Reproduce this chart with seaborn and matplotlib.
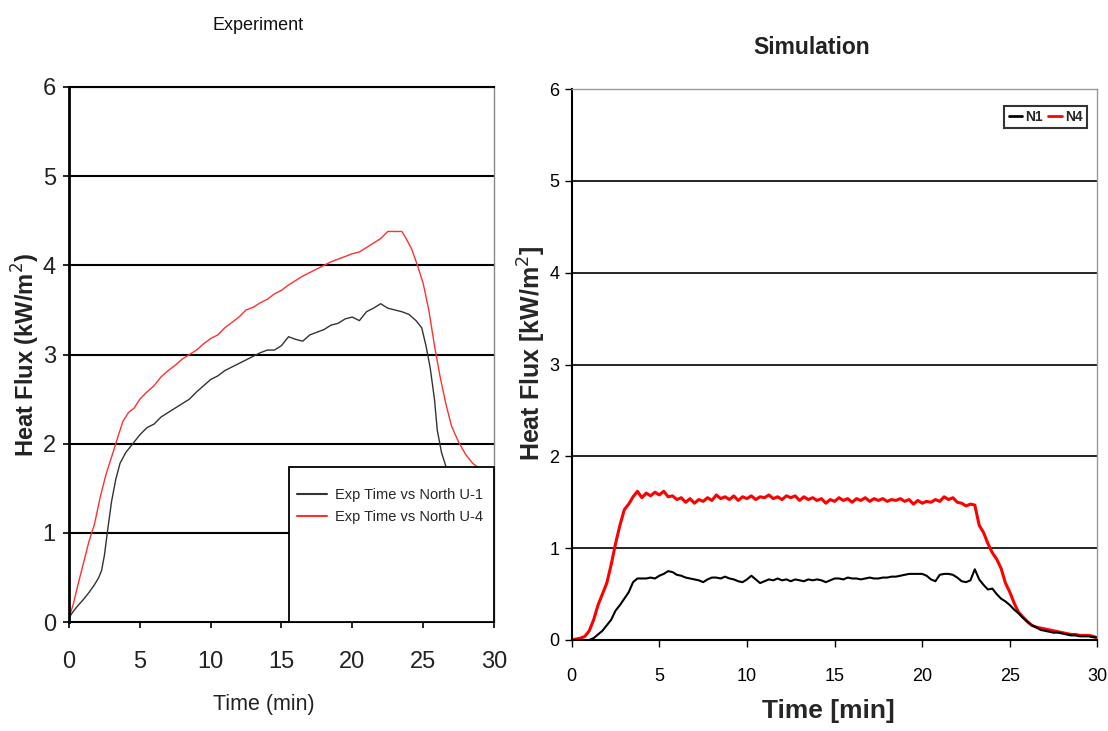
import numpy as np
import pandas as pd
import matplotlib
matplotlib.use("Agg")
import matplotlib.pyplot as plt
from matplotlib.patches import Rectangle
from matplotlib.lines import Line2D
from matplotlib import font_manager
import seaborn as sns

# ---------------- data ----------------
EXP_U1_TIME = [0, 0.3, 0.6, 1.0, 1.4, 1.8, 2.1, 2.3, 2.5, 2.7, 3.0, 3.3, 3.6, 4.0, 4.5, 5.0, 5.5, 6.0,
               6.5, 7.0, 7.5, 8.0, 8.5, 9.0, 9.5, 10.0, 10.5, 11.0, 11.5, 12.0, 12.5, 13.0, 13.5, 14.0,
               14.5, 15.0, 15.5, 16.0, 16.5, 17.0, 17.5, 18.0, 18.5, 19.0, 19.5, 20.0, 20.5, 21.0, 21.5,
               22.0, 22.5, 23.0, 23.5, 24.0, 24.5, 24.9, 25.2, 25.5, 25.8, 26.0, 26.3, 26.6]
EXP_U1 = [0.05, 0.12, 0.18, 0.25, 0.33, 0.42, 0.5, 0.58, 0.75, 1.0, 1.35, 1.6, 1.78, 1.9, 2.0, 2.1, 2.18,
          2.22, 2.3, 2.35, 2.4, 2.45, 2.5, 2.58, 2.65, 2.72, 2.76, 2.82, 2.86, 2.9, 2.94, 2.98, 3.02, 3.05,
          3.05, 3.1, 3.2, 3.17, 3.15, 3.22, 3.25, 3.28, 3.33, 3.35, 3.4, 3.42, 3.38, 3.48, 3.52, 3.57, 3.52,
          3.5, 3.48, 3.45, 3.38, 3.3, 3.1, 2.85, 2.5, 2.15, 1.9, 1.75]

EXP_U4_TIME = [0, 0.3, 0.6, 1.0, 1.4, 1.8, 2.2, 2.6, 3.0, 3.4, 3.8, 4.2, 4.6, 5.0, 5.5, 6.0, 6.5, 7.0, 7.5,
               8.0, 8.5, 9.0, 9.5, 10.0, 10.5, 11.0, 11.5, 12.0, 12.5, 13.0, 13.5, 14.0, 14.5, 15.0, 15.5,
               16.0, 16.5, 17.0, 17.5, 18.0, 18.5, 19.0, 19.5, 20.0, 20.5, 21.0, 21.5, 22.0, 22.5, 23.0,
               23.5, 23.8, 24.2, 24.6, 25.0, 25.4, 25.8, 26.2, 26.6, 27.0, 27.5, 28.0, 28.5, 29.0]
EXP_U4 = [0.05, 0.2, 0.4, 0.65, 0.9, 1.1, 1.4, 1.65, 1.85, 2.05, 2.25, 2.35, 2.4, 2.5, 2.58, 2.65, 2.75,
          2.82, 2.88, 2.95, 3.0, 3.05, 3.12, 3.18, 3.22, 3.3, 3.36, 3.42, 3.5, 3.53, 3.58, 3.62, 3.68, 3.72,
          3.78, 3.83, 3.88, 3.92, 3.96, 4.0, 4.04, 4.07, 4.1, 4.13, 4.15, 4.2, 4.25, 4.3, 4.38, 4.38, 4.38,
          4.3, 4.18, 4.0, 3.8, 3.5, 3.1, 2.75, 2.45, 2.2, 2.02, 1.88, 1.78, 1.72]

SIM_TIME = [i * 0.25 for i in range(121)]
SIM_N4 = [0.0, 0.01, 0.02, 0.04, 0.10, 0.22, 0.38, 0.50, 0.62, 0.82, 1.05, 1.25, 1.42, 1.48, 1.56, 1.62,
          1.55, 1.60, 1.57, 1.61, 1.58, 1.62, 1.56, 1.57, 1.53, 1.55, 1.50, 1.54, 1.49, 1.53, 1.51, 1.55,
          1.52, 1.58, 1.54, 1.56, 1.53, 1.57, 1.52, 1.56, 1.54, 1.57, 1.53, 1.56, 1.55, 1.58, 1.54, 1.56,
          1.53, 1.57, 1.55, 1.57, 1.52, 1.56, 1.53, 1.55, 1.52, 1.54, 1.49, 1.53, 1.51, 1.55, 1.52, 1.54,
          1.50, 1.54, 1.52, 1.55, 1.51, 1.54, 1.52, 1.54, 1.51, 1.53, 1.52, 1.54, 1.51, 1.53, 1.48, 1.52,
          1.49, 1.51, 1.50, 1.53, 1.51, 1.56, 1.53, 1.55, 1.50, 1.49, 1.46, 1.48, 1.47, 1.25, 1.17, 1.05,
          0.95, 0.88, 0.78, 0.62, 0.52, 0.40, 0.30, 0.25, 0.20, 0.16, 0.14, 0.13, 0.12, 0.11, 0.10, 0.09,
          0.08, 0.07, 0.06, 0.06, 0.05, 0.05, 0.05, 0.04, 0.02]
SIM_N1 = [0.0, 0.0, 0.0, 0.0, 0.0, 0.02, 0.06, 0.10, 0.16, 0.22, 0.32, 0.38, 0.45, 0.52, 0.63, 0.67,
          0.67, 0.67, 0.68, 0.67, 0.70, 0.72, 0.75, 0.74, 0.71, 0.70, 0.68, 0.67, 0.66, 0.65, 0.63, 0.66,
          0.68, 0.68, 0.67, 0.69, 0.67, 0.66, 0.64, 0.63, 0.66, 0.70, 0.66, 0.62, 0.64, 0.66, 0.65, 0.67,
          0.65, 0.66, 0.64, 0.66, 0.65, 0.64, 0.66, 0.65, 0.66, 0.65, 0.63, 0.65, 0.67, 0.67, 0.66, 0.68,
          0.67, 0.67, 0.66, 0.67, 0.68, 0.67, 0.67, 0.68, 0.68, 0.69, 0.69, 0.70, 0.71, 0.72, 0.72, 0.72,
          0.72, 0.70, 0.66, 0.64, 0.71, 0.72, 0.72, 0.71, 0.68, 0.64, 0.63, 0.65, 0.77, 0.66, 0.60, 0.55,
          0.56, 0.50, 0.45, 0.42, 0.38, 0.33, 0.29, 0.24, 0.20, 0.16, 0.14, 0.11, 0.10, 0.09, 0.08, 0.08,
          0.07, 0.06, 0.05, 0.05, 0.04, 0.04, 0.04, 0.03, 0.03]

Y_TICKS = [0, 1, 2, 3, 4, 5, 6]
X_TICKS = [0, 5, 10, 15, 20, 25, 30]
EXP_LABELS = ["Exp Time vs North U-1", "Exp Time vs North U-4"]
SIM_LABELS = ["N1", "N4"]

# ---------------- style ----------------
sns.set_style("white")
plt.rcParams["font.family"] = ["Liberation Sans", "DejaVu Sans"]

_avail = {f.name for f in font_manager.fontManager.ttflist}
NARROW = "Liberation Sans"
for cand in ["Liberation Sans Narrow", "DejaVu Sans Condensed"]:
    if cand in _avail:
        NARROW = cand
        break
narrow_kw = dict(family=[NARROW, "DejaVu Sans"])
if NARROW == "DejaVu Sans Condensed":
    narrow_kw["stretch"] = "condensed"


def narrowize(labels, size):
    for lab in labels:
        lab.set_fontsize(size)
        lab.set_family(narrow_kw["family"])
        if "stretch" in narrow_kw:
            lab.set_stretch(narrow_kw["stretch"])


fig = plt.figure(figsize=(11.08, 7.31), dpi=100)
ax1 = fig.add_axes([0.0623, 0.149, 0.3835, 0.732])
ax2 = fig.add_axes([0.516, 0.1245, 0.4745, 0.7535])

# ---------------- Experiment ----------------
df_u1 = pd.DataFrame({"t": EXP_U1_TIME, "q": EXP_U1})
df_u4 = pd.DataFrame({"t": EXP_U4_TIME, "q": EXP_U4})
sns.lineplot(data=df_u1, x="t", y="q", ax=ax1, color="#333333", lw=1.0, estimator=None, sort=False)
sns.lineplot(data=df_u4, x="t", y="q", ax=ax1, color="#ff3030", lw=1.0, estimator=None, sort=False)

ax1.set_xlim(0, 30)
ax1.set_ylim(0, 6)
ax1.set_xticks(X_TICKS)
ax1.set_yticks(Y_TICKS)
for y in Y_TICKS[1:]:
    ax1.axhline(y, color="black", lw=1.5, zorder=1)
ax1.tick_params(axis="both", direction="out", length=4.5, width=1.2, colors="black",
                left=True, bottom=True)
ax1.tick_params(axis="x", pad=16)
ax1.tick_params(axis="y", pad=5)
narrowize(ax1.get_xticklabels() + ax1.get_yticklabels(), 17)
for lab in ax1.get_xticklabels() + ax1.get_yticklabels():
    lab.set_color("#222222")
ax1.spines["left"].set_linewidth(2.0)
ax1.spines["left"].set_color("black")
ax1.spines["bottom"].set_linewidth(1.5)
ax1.spines["bottom"].set_color("black")
ax1.spines["top"].set_linewidth(1.5)
ax1.spines["top"].set_color("black")
ax1.spines["right"].set_linewidth(1.0)
ax1.spines["right"].set_color("#888888")
ax1.set_xlabel("Time (min)", fontsize=15.5, color="#222222", **narrow_kw)
ax1.xaxis.set_label_coords(0.459, -0.135)
ax1.set_ylabel("Heat Flux (kW/m$^2$)", fontsize=17, fontweight="bold", color="#222222")
ax1.yaxis.set_label_coords(-0.064, 0.5)
fig.text(258 / 1108, 1 - 25 / 731, "Experiment", ha="center", va="center", fontsize=13,
         color="#111111", **narrow_kw)

ax1.add_patch(Rectangle((15.55, 0), 14.45, 1.74, facecolor="white", edgecolor="black",
                        lw=1.3, zorder=3, clip_on=False))
h1 = [Line2D([], [], color="#333333", lw=1.5), Line2D([], [], color="#ff3030", lw=1.5)]
leg1 = ax1.legend(h1, EXP_LABELS, loc="upper left", bbox_to_anchor=(0.505, 0.275), frameon=False,
                  prop=dict(size=10.5, **narrow_kw), handlelength=2.1, handletextpad=0.5,
                  labelspacing=0.55)
leg1.set_zorder(4)

# ---------------- Simulation ----------------
df_sim = pd.DataFrame({"t": SIM_TIME, "n1": SIM_N1, "n4": SIM_N4})
sns.lineplot(data=df_sim, x="t", y="n4", ax=ax2, color="#ff0000", lw=2.2, estimator=None, sort=False,
             label=SIM_LABELS[1])
sns.lineplot(data=df_sim, x="t", y="n1", ax=ax2, color="black", lw=1.5, estimator=None, sort=False,
             label=SIM_LABELS[0])

ax2.set_xlim(0, 30)
ax2.set_ylim(0, 6)
ax2.set_xticks(X_TICKS)
ax2.set_yticks(Y_TICKS)
for y in Y_TICKS[1:-1]:
    ax2.axhline(y, color="black", lw=1.2, zorder=1)
ax2.tick_params(axis="both", direction="out", length=5, width=1, colors="black",
                left=True, bottom=True)
ax2.tick_params(axis="x", pad=15)
ax2.tick_params(axis="y", pad=4)
narrowize(ax2.get_xticklabels() + ax2.get_yticklabels(), 13)
ax2.spines["left"].set_linewidth(1.5)
ax2.spines["left"].set_color("black")
ax2.spines["bottom"].set_linewidth(1.5)
ax2.spines["bottom"].set_color("black")
ax2.spines["top"].set_linewidth(1.0)
ax2.spines["top"].set_color("#999999")
ax2.spines["right"].set_linewidth(1.0)
ax2.spines["right"].set_color("#999999")
ax2.set_xlabel("Time [min]", fontsize=19, fontweight="bold")
ax2.xaxis.set_label_coords(0.488, -0.108)
ax2.set_ylabel("Heat Flux [kW/m$^2$]", fontsize=18, fontweight="bold")
ax2.yaxis.set_label_coords(-0.046, 0.52)
fig.text(812 / 1108, 1 - 47 / 731, "Simulation", ha="center", va="center", fontsize=16.5,
         fontweight="bold", color="#222222")

h2 = [Line2D([], [], color="black", lw=2), Line2D([], [], color="#ff0000", lw=2)]
leg2 = ax2.legend(h2, SIM_LABELS, loc="upper right", bbox_to_anchor=(0.985, 0.975), ncol=2,
                  frameon=True, fancybox=False, prop=dict(size=10, weight="bold", **narrow_kw),
                  handlelength=1.0, handletextpad=0.2, columnspacing=0.4, borderpad=0.3,
                  borderaxespad=0.2)
leg2.get_frame().set_edgecolor("black")
leg2.get_frame().set_linewidth(1.5)

fig.savefig("out.png", dpi=100, facecolor="white")
